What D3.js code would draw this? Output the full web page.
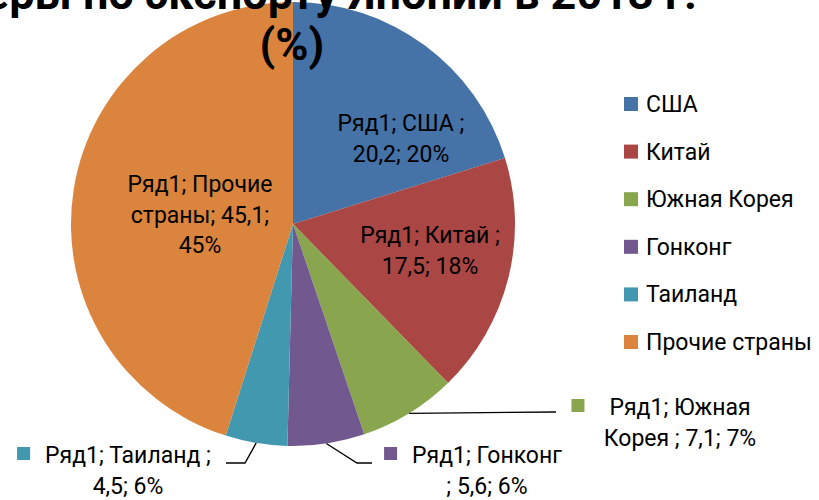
<!DOCTYPE html>
<html><head><meta charset="utf-8">
<script src="https://cdn.jsdelivr.net/npm/d3@7"></script>
<style>
html,body{margin:0;padding:0;background:#fff;}
svg{display:block;}
text{font-family:Roboto,"Noto Sans",sans-serif;fill:#000;}
</style></head>
<body>
<svg id="chart" width="819" height="500"></svg>
<script>
const seriesName = "Ряд1";
const categories = ["США","Китай","Южная Корея","Гонконг","Таиланд","Прочие страны"];
const values = [20.2, 17.5, 7.1, 5.6, 4.5, 45.1];
const valueLabels = ["20,2","17,5","7,1","5,6","4,5","45,1"];
const percentLabels = ["20%","18%","7%","6%","6%","45%"];
const colors = ["#4572A7","#AA4643","#89A54E","#71588F","#4198AF","#DB843D"];
const titleLines = ["Основные партнеры по экспорту Японии в 2013 г.","(%)"];

// label text lines per category (wrapped as in the original)
const labelLines = [
  [`${seriesName}; ${categories[0]} ;`, `${valueLabels[0]}; ${percentLabels[0]}`],
  [`${seriesName}; ${categories[1]} ;`, `${valueLabels[1]}; ${percentLabels[1]}`],
  [`${seriesName}; Южная`, `Корея ; ${valueLabels[2]}; ${percentLabels[2]}`],
  [`${seriesName}; ${categories[3]}`, `; ${valueLabels[3]}; ${percentLabels[3]}`],
  [`${seriesName}; ${categories[4]} ;`, `${valueLabels[4]}; ${percentLabels[4]}`],
  [`${seriesName}; Прочие`, `страны; ${valueLabels[5]};`, `${percentLabels[5]}`]
];

const svg = d3.select("#chart");
const cx = 293, cy = 224, R = 222;
const g = svg.append("g").attr("transform", `translate(${cx},${cy})`);

const pie = d3.pie().sort(null).value(d => d.v);
const data = categories.map((c, i) => ({c, v: values[i], i}));
const arcs = pie(data);
const arc = d3.arc().innerRadius(0).outerRadius(R);

g.selectAll("path.slice").data(arcs).enter().append("path")
  .attr("class","slice")
  .attr("d", arc)
  .attr("fill", d => colors[d.data.i]);

// Title (the top line is partly outside the picture, as in the original)
svg.append("text").attr("x", 697).attr("y", 9).attr("text-anchor","end")
  .attr("font-weight","bold").attr("font-size", 45).text(titleLines[0]);
svg.append("text").attr("x", 292).attr("y", 60).attr("text-anchor","middle")
  .attr("font-weight","bold").attr("font-size", 45).text(titleLines[1]);

const fs = 23, lh = 30.5;

// inside labels: [centerX, firstBaseline]
const insidePos = {0:[401,131], 1:[430,243], 5:[200,192]};
Object.keys(insidePos).forEach(k => {
  const i = +k, p = insidePos[k];
  const t = svg.append("text").attr("text-anchor","middle").attr("font-size", fs);
  labelLines[i].forEach((ln, j) => {
    t.append("tspan").attr("x", p[0]).attr("y", p[1] + j*lh).text(ln);
  });
});

// outside labels with leader lines and legend keys
const outside = [
  {i:2, cxText:680, y:415, gap:25, path:[[556,412]]},
  {i:3, cxText:487, y:463, gap:15, path:[[357,463],[372,463]]},
  {i:4, cxText:128, y:463, gap:15, path:[[245,463],[226,463]]}
];
outside.forEach(o => {
  const a = arcs[o.i];
  const m = (a.startAngle + a.endAngle) / 2;
  const sx = cx + R*Math.sin(m), sy = cy - R*Math.cos(m);
  const pts = [[sx, sy]].concat(o.path);
  svg.append("path").attr("d", d3.line()(pts)).attr("fill","none")
    .attr("stroke","#000").attr("stroke-width",1.3);
  const t = svg.append("text").attr("text-anchor","middle").attr("font-size", fs);
  const spans = labelLines[o.i].map((ln, j) =>
    t.append("tspan").attr("x", o.cxText).attr("y", o.y + j*lh).text(ln));
  const w = spans[0].node().getComputedTextLength();
  const left = o.cxText - w/2;
  svg.append("rect").attr("x", left - o.gap - 13).attr("y", o.y - 16)
    .attr("width", 13).attr("height", 13).attr("fill", colors[o.i]);
});

// legend
const lg = svg.append("g");
categories.forEach((c, i) => {
  const y = 97 + i*47.6;
  lg.append("rect").attr("x", 624).attr("y", y).attr("width", 14).attr("height", 14)
    .attr("fill", colors[i]);
  lg.append("text").attr("x", 646).attr("y", y + 15).attr("font-size", fs).text(c);
});
</script>
</body></html>
